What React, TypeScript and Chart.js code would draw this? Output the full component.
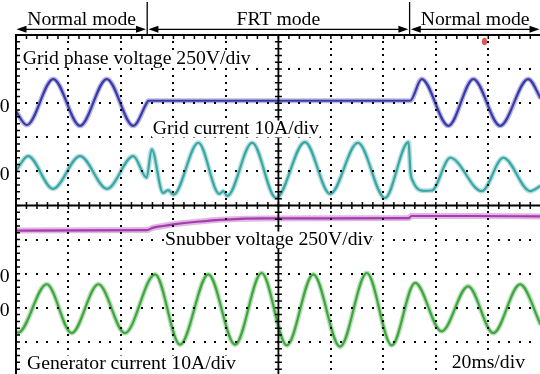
import { useEffect, useRef } from "react";
import { Chart, registerables } from "chart.js";

Chart.register(...registerables);

// ---- time base: 20 ms/div, 10 divisions ----
const timeMaxMs = 200;
const msPerDiv = 20;

// ---- CH1: grid phase voltage (V), 250 V/div ----
const gridVoltageTimeMs = [0, 4.1, 14.2, 24.4, 34.6, 44.7, 49.8, 50.4, 100, 150.2, 154.6, 164.8, 174.3, 184.5, 195.2, 200];
const gridVoltageV = [-60, -160, 177, -166, 177, -166, 0, 18, 18, 18, 177, -166, 177, -166, 177, 35];

// ---- CH2: grid current (A), 10 A/div ----
const gridCurrentTimeMs = [0, 4.6, 14.1, 24.4, 34.7, 44.7, 49.8, 51.7, 56, 58, 60, 69.5, 77.5, 79, 80.5, 90, 99.1, 110.1, 119.7, 130.3, 140.6, 149.6, 150.3, 151.2, 155.5, 158.5, 165.5, 177.5, 185.7, 196, 200];
const gridCurrentA = [0.2, 4.5, -5.1, 4.5, -5.1, 4.5, -1.8, 6.5, -6.3, -5.5, -6.8, 8.4, -6.6, -5.8, -7.2, 8.4, -7.8, 8.6, -6.6, 8.4, -7.8, 8.6, 0, -2.8, -5.7, -5.6, 4.0, -5.8, 4.0, -5.8, -4.2];

// ---- CH3: snubber voltage (V), 250 V/div ----
const snubberTimeMs = [0, 50, 52, 56, 60, 69, 80, 95, 120, 149.8, 150.6, 175, 200];
const snubberV = [316, 320, 336, 350, 362, 381, 397, 405, 406, 408, 423, 423, 420];

// ---- CH4: generator current (A), 10 A/div ----
const genCurrentTimeMs = [0, 0.8, 11.7, 21.2, 31.4, 41.5, 53.0, 62.5, 73.3, 83.5, 93.6, 103.2, 113.3, 123.5, 133.7, 143.2, 152.1, 162.2, 172.3, 181.9, 192.1, 200];
const genCurrentA = [-6.9, -7.3, 6.9, -7.4, 6.9, -7.4, 9.8, -10.8, 9.8, -10.8, 10.2, -11.0, 9.8, -11.4, 10.2, -11.0, 7.3, -6.9, 6.3, -7.4, 6.85, -5.0];

const channelTimes = [gridVoltageTimeMs, gridCurrentTimeMs, snubberTimeMs, genCurrentTimeMs];
const channelValues = [gridVoltageV, gridCurrentA, snubberV, genCurrentA];
const channelUnitsPerDiv = [250, 10, 250, 10];
const channelZeroDiv = [3, 1, -2, -3];
const channelColors = ["52,52,168", "52,164,164", "162,52,172", "58,164,58"];
const channelLabels = [
  "Grid phase voltage 250V/div",
  "Grid current 10A/div",
  "Snubber voltage 250V/div",
  "Generator current 10A/div",
];
const timeBaseLabel = "20ms/div";
const modeNames = ["Normal mode", "FRT mode", "Normal mode"];
const modeEdgesMs = [0, 50, 150, 200];

const W = 560;
const H = 392;
const FONT = '19.7px "Liberation Serif", "Times New Roman", serif';

function toPoints(t: number[], v: number[], zero: number, perDiv: number) {
  return t.map((ti, i) => ({ x: ti, y: zero + v[i] / perDiv }));
}

const scopePlugin = {
  id: "scope",
  afterDatasetsDraw(chart: any) {
    const { ctx, scales } = chart;
    const xs = scales.x;
    const ys = scales.y;
    const left = xs.getPixelForValue(0);
    const right = xs.getPixelForValue(timeMaxMs);
    const top = ys.getPixelForValue(5);
    const bottom = ys.getPixelForValue(-5);
    ctx.save();
    ctx.fillStyle = "#000";
    // dotted horizontal graticule
    for (let j = -4; j <= 4; j++) {
      if (j === 0) continue;
      const yy = ys.getPixelForValue(j);
      for (let k = 0; k <= 50; k++) {
        const xx = xs.getPixelForValue((k * msPerDiv) / 5);
        ctx.fillRect(Math.round(xx) - 1, Math.round(yy) - 1, 2, 2);
      }
    }
    // dotted vertical graticule
    for (let i = 1; i <= 9; i++) {
      if (i === 5) continue;
      const xx = xs.getPixelForValue(i * msPerDiv);
      for (let k = 0; k <= 50; k++) {
        const yy = ys.getPixelForValue(5 - k * 0.2);
        ctx.fillRect(Math.round(xx) - 1, Math.round(yy) - 1, 2, 2);
      }
    }
    // center axes
    const cx = xs.getPixelForValue(100);
    const cy = ys.getPixelForValue(0);
    ctx.strokeStyle = "#000";
    ctx.lineWidth = 1.8;
    ctx.beginPath();
    ctx.moveTo(left, cy);
    ctx.lineTo(right, cy);
    ctx.moveTo(cx, top);
    ctx.lineTo(cx, bottom);
    ctx.stroke();
    ctx.lineWidth = 1.5;
    ctx.beginPath();
    for (let k = 0; k <= 50; k++) {
      const xx = xs.getPixelForValue((k * msPerDiv) / 5);
      ctx.moveTo(xx, cy - 3.5);
      ctx.lineTo(xx, cy + 3.5);
      const yy = ys.getPixelForValue(5 - k * 0.2);
      ctx.moveTo(cx - 3.5, yy);
      ctx.lineTo(cx + 3.5, yy);
      // border ticks
      ctx.moveTo(left, yy);
      ctx.lineTo(left + 4, yy);
      ctx.moveTo(xx, top);
      ctx.lineTo(xx, top + 4);
    }
    ctx.stroke();
    // borders
    ctx.lineWidth = 2;
    ctx.beginPath();
    ctx.moveTo(left, bottom);
    ctx.lineTo(left, top);
    ctx.lineTo(right, top);
    ctx.stroke();

    // mode annotations
    const arrowY = 29.3;
    ctx.font = FONT;
    ctx.textAlign = "center";
    ctx.textBaseline = "alphabetic";
    ctx.lineWidth = 1.3;
    for (let m = 0; m < modeNames.length; m++) {
      const a = xs.getPixelForValue(modeEdgesMs[m]) + (m === 0 ? 0.5 : 1.2);
      const b = Math.min(xs.getPixelForValue(modeEdgesMs[m + 1]) - 1.2, 539.5);
      ctx.beginPath();
      ctx.moveTo(a + 8, arrowY);
      ctx.lineTo(b - 8, arrowY);
      ctx.stroke();
      ctx.beginPath();
      ctx.moveTo(a, arrowY);
      ctx.lineTo(a + 10, arrowY - 3.5);
      ctx.lineTo(a + 10, arrowY + 3.5);
      ctx.closePath();
      ctx.moveTo(b, arrowY);
      ctx.lineTo(b - 10, arrowY - 3.5);
      ctx.lineTo(b - 10, arrowY + 3.5);
      ctx.closePath();
      ctx.fill();
      const mid = (xs.getPixelForValue(modeEdgesMs[m]) + xs.getPixelForValue(modeEdgesMs[m + 1])) / 2;
      ctx.fillText(modeNames[m], mid, 24.5);
    }
    ctx.lineWidth = 1.3;
    ctx.beginPath();
    for (let m = 1; m < modeEdgesMs.length - 1; m++) {
      const xx = xs.getPixelForValue(modeEdgesMs[m]);
      ctx.moveTo(xx, 2);
      ctx.lineTo(xx, top);
    }
    ctx.stroke();

    // channel ground markers
    ctx.textAlign = "right";
    ctx.textBaseline = "middle";
    for (let c = 0; c < channelZeroDiv.length; c++) {
      ctx.fillText("0", 9.5, ys.getPixelForValue(channelZeroDiv[c]) + 3.5);
    }

    // channel labels (white text boxes)
    ctx.textAlign = "left";
    ctx.textBaseline = "alphabetic";
    const labelPos = [
      [22.7, 64],
      [152.7, 134],
      [165, 245],
      [27, 369],
      [451.7, 368],
    ];
    const texts = [...channelLabels, timeBaseLabel];
    for (let c = 0; c < texts.length; c++) {
      const w = ctx.measureText(texts[c]).width;
      ctx.fillStyle = "#fff";
      ctx.fillRect(labelPos[c][0] - 1, labelPos[c][1] - 13.5, w + 2, 17);
      ctx.fillStyle = "#000";
      ctx.fillText(texts[c], labelPos[c][0], labelPos[c][1]);
    }

    // trigger marker
    ctx.fillStyle = "rgba(215,60,60,0.85)";
    ctx.beginPath();
    ctx.ellipse(484.5, 41.5, 2.6, 3.8, 0, 0, Math.PI * 2);
    ctx.fill();
    ctx.restore();
  },
};

export default function App() {
  const ref = useRef<HTMLCanvasElement | null>(null);
  useEffect(() => {
    if (!ref.current) return;
    const datasets: any[] = [];
    for (let c = 0; c < channelTimes.length; c++) {
      const pts = toPoints(channelTimes[c], channelValues[c], channelZeroDiv[c], channelUnitsPerDiv[c]);
      datasets.push({
        data: pts,
        borderColor: `rgba(${channelColors[c]},0.35)`,
        borderWidth: c === 2 ? 6 : 5,
        pointRadius: 0,
        cubicInterpolationMode: "monotone",
        fill: false,
      });
      datasets.push({
        data: pts,
        borderColor: `rgba(${channelColors[c]},0.95)`,
        borderWidth: 2.2,
        pointRadius: 0,
        cubicInterpolationMode: "monotone",
        fill: false,
      });
    }
    const chart = new Chart(ref.current, {
      type: "line",
      data: { datasets },
      options: {
        responsive: false,
        animation: false,
        devicePixelRatio: 1,
        layout: { padding: { left: 16, top: 35, right: W - 540.8, bottom: H - 376 } },
        scales: {
          x: { type: "linear", min: 0, max: timeMaxMs, display: false },
          y: { type: "linear", min: -5, max: 5, display: false },
        },
        plugins: { legend: { display: false }, tooltip: { enabled: false } },
      },
      plugins: [scopePlugin],
    });
    return () => chart.destroy();
  }, []);
  return (
    <div style={{ position: "fixed", left: 0, top: 0, width: 540, height: 374, overflow: "hidden", background: "#fff" }}>
      <canvas ref={ref} width={W} height={H} style={{ width: W, height: H, display: "block" }} />
    </div>
  );
}
